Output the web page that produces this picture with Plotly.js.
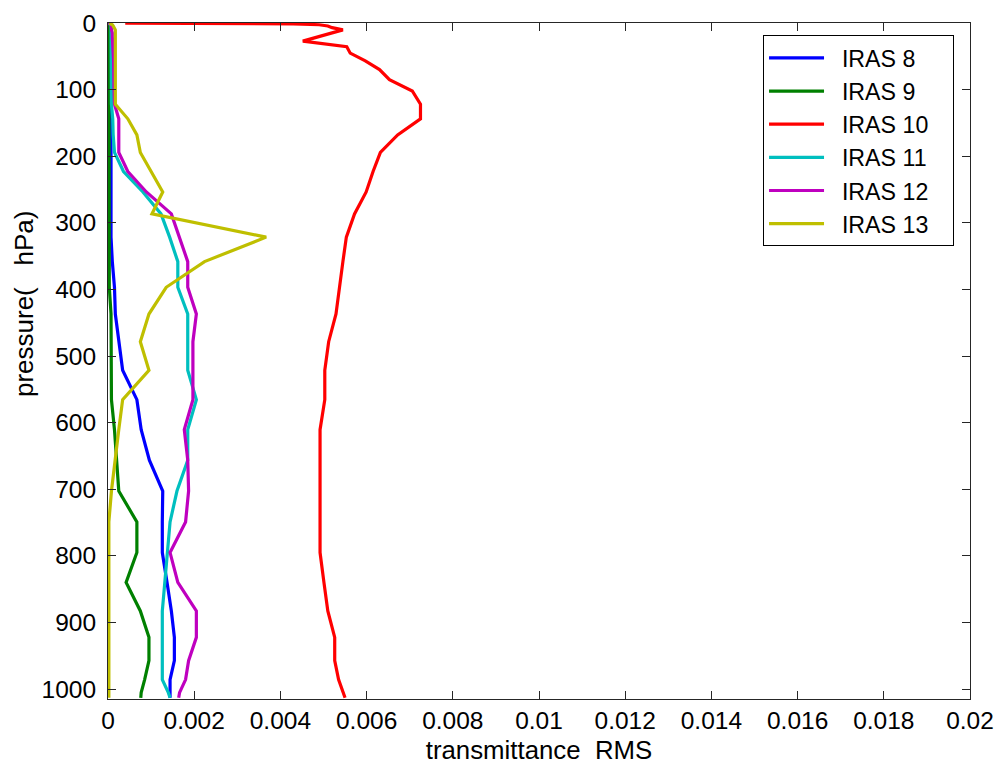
<!DOCTYPE html>
<html>
<head>
<meta charset="utf-8">
<script src="https://cdn.plot.ly/plotly-3.0.1.min.js"></script>
<style>html,body{margin:0;padding:0;background:#fff;}#chart{width:998px;height:767px;}</style>
</head>
<body>
<div id="chart"></div>
<script>
// pressure levels (hPa)
var pressure = [0.1, 0.29, 0.69, 1.42, 2.611, 4.407, 6.95, 10.37, 14.81, 20.4, 27.26, 35.51, 45.29, 56.73, 69.97, 85.18, 102.05, 122.04, 143.84, 167.95, 194.36, 222.94, 253.71, 286.6, 321.5, 358.28, 396.81, 436.95, 478.54, 521.46, 565.54, 610.6, 656.43, 702.73, 749.12, 795.09, 839.95, 882.8, 922.46, 957.44, 985.88, 1005.43, 1013.25];

var iras8 = [0.00003, 0.00003, 0.00003, 0.00003, 0.00003, 0.00003, 0.00003, 0.00003, 0.00003, 0.00003, 0.00003, 0.00003, 0.00003, 0.00003, 0.00003, 0.00003, 0.00003, 0.00005, 0.00007, 0.00007, 0.00007, 0.00007, 0.00007, 0.00007, 0.00007, 0.0001, 0.00015, 0.00017, 0.00025, 0.00034, 0.00067, 0.00077, 0.00096, 0.00127, 0.00126, 0.00126, 0.00137, 0.00147, 0.00154, 0.00154, 0.00144, 0.00144, 0.00144];

var iras9 = [0.00002, 0.00002, 0.00002, 0.00002, 0.00002, 0.00002, 0.00002, 0.00002, 0.00002, 0.00002, 0.00002, 0.00002, 0.00002, 0.00002, 0.00002, 0.00002, 0.00002, 0.00002, 0.00002, 0.00002, 0.00002, 0.00002, 0.00002, 0.00002, 0.00002, 0.00002, 0.00003, 0.00007, 0.00007, 0.00007, 0.00008, 0.00015, 0.0002, 0.00025, 0.00067, 0.00067, 0.00042, 0.00075, 0.00095, 0.00095, 0.00085, 0.00077, 0.00076];

var iras10 = [0.0004, 0.0018, 0.0032, 0.0043, 0.0049, 0.0051, 0.0052, 0.00545, 0.0052, 0.0049, 0.00452, 0.00554, 0.00562, 0.00597, 0.0063, 0.00653, 0.00706, 0.00725, 0.00725, 0.00672, 0.00632, 0.00615, 0.00599, 0.00572, 0.00553, 0.00545, 0.00537, 0.00529, 0.00512, 0.00503, 0.00503, 0.00492, 0.00492, 0.00492, 0.00492, 0.00492, 0.00501, 0.0051, 0.00526, 0.00526, 0.00535, 0.00545, 0.0055];

var iras11 = [0.00001, 0.00002, 0.00003, 0.00004, 0.00005, 0.00007, 0.00007, 0.00007, 0.00007, 0.00007, 0.00007, 0.00007, 0.00007, 0.00007, 0.00007, 0.00007, 0.00007, 0.00008, 0.00011, 0.00012, 0.00015, 0.00036, 0.00081, 0.00123, 0.00143, 0.00162, 0.00162, 0.00185, 0.00185, 0.00185, 0.00205, 0.00185, 0.00185, 0.0016, 0.00144, 0.00138, 0.00132, 0.00126, 0.00126, 0.00126, 0.00126, 0.0014, 0.00144];

var iras12 = [0.00001, 0.00002, 0.00004, 0.00006, 0.00007, 0.00008, 0.00008, 0.00008, 0.0001, 0.0001, 0.00011, 0.00012, 0.00012, 0.00013, 0.00013, 0.00014, 0.00014, 0.00015, 0.00025, 0.00025, 0.00025, 0.00046, 0.00089, 0.00147, 0.00166, 0.00185, 0.00185, 0.00205, 0.00197, 0.00197, 0.00197, 0.00177, 0.00185, 0.00187, 0.0018, 0.00144, 0.00162, 0.00205, 0.00205, 0.00187, 0.0018, 0.00166, 0.00164];

var iras13 = [0.00003, 0.00004, 0.00006, 0.00008, 0.0001, 0.00012, 0.00014, 0.00017, 0.00017, 0.00017, 0.00017, 0.00017, 0.00017, 0.00017, 0.00017, 0.00017, 0.00017, 0.00017, 0.00046, 0.00067, 0.00075, 0.001, 0.00127, 0.00102, 0.00367, 0.00224, 0.00135, 0.00095, 0.00075, 0.00095, 0.00034, 0.00025, 0.00017, 0.00008, 0.00002, 0.00002, 0.00002, 0.00002, 0.00002, 0.00002, 0.00002, 0.00002, 0.00002];

var seriesNames = ['IRAS 8', 'IRAS 9', 'IRAS 10', 'IRAS 11', 'IRAS 12', 'IRAS 13'];
var seriesColors = ['#0000FF', '#008000', '#FF0000', '#00BFBF', '#BF00BF', '#BFBF00'];
var seriesValues = [iras8, iras9, iras10, iras11, iras12, iras13];

var xTickVals = [0, 0.002, 0.004, 0.006, 0.008, 0.01, 0.012, 0.014, 0.016, 0.018, 0.02];
var xTickText = ['0', '0.002', '0.004', '0.006', '0.008', '0.01', '0.012', '0.014', '0.016', '0.018', '0.02'];
var yTickVals = [0, 100, 200, 300, 400, 500, 600, 700, 800, 900, 1000];
var yTickText = ['0', '100', '200', '300', '400', '500', '600', '700', '800', '900', '1000'];

var NB = '\u00A0';
var traces = seriesValues.map(function (vals, i) {
  return {
    type: 'scatter',
    mode: 'lines',
    x: vals,
    y: pressure,
    name: NB + NB + seriesNames[i] + NB + NB + NB,
    line: { color: seriesColors[i], width: 3.2 }
  };
});

var fontFam = 'Liberation Sans, Arial, Helvetica, sans-serif';
var layout = {
  width: 998,
  height: 767,
  margin: { l: 108, r: 28, t: 23, b: 68, pad: 0 },
  paper_bgcolor: '#ffffff',
  plot_bgcolor: '#ffffff',
  font: { family: fontFam, size: 24.5, color: '#000000' },
  showlegend: true,
  legend: {
    x: 0.7599, y: 0.9818, xanchor: 'left', yanchor: 'top',
    bgcolor: '#ffffff', bordercolor: '#000000', borderwidth: 1,
    font: { family: fontFam, size: 23.2, color: '#000000' },
    itemwidth: 55,
    tracegroupgap: 0
  },
  xaxis: {
    range: [0, 0.02],
    tickvals: xTickVals, ticktext: xTickText,
    ticks: 'inside', ticklen: 8, tickwidth: 1, tickcolor: '#262626',
    showline: true, linecolor: '#262626', linewidth: 1, mirror: 'allticks',
    showgrid: false, zeroline: false,
    tickfont: { family: fontFam, size: 24.5, color: '#000000' },
    title: { text: 'transmittance' + NB + NB + 'RMS', font: { family: fontFam, size: 25.8, color: '#000000' }, standoff: 7 }
  },
  yaxis: {
    range: [1015, 0],
    tickvals: yTickVals, ticktext: yTickText,
    ticks: 'inside', ticklen: 8, tickwidth: 1, tickcolor: '#262626',
    showline: true, linecolor: '#262626', linewidth: 1, mirror: 'allticks',
    showgrid: false, zeroline: false,
    tickfont: { family: fontFam, size: 24.5, color: '#000000' },
    ticklabelstandoff: 6
  },
  annotations: [{
    text: 'pressure(' + NB + NB + NB + 'hPa)',
    xref: 'paper', yref: 'paper',
    x: -0.0974, y: 0.5843, xanchor: 'center', yanchor: 'middle',
    textangle: -90, showarrow: false,
    font: { family: fontFam, size: 26, color: '#000000' }
  }]
};

Plotly.newPlot('chart', traces, layout, { displayModeBar: false, staticPlot: true });
</script>
</body>
</html>
